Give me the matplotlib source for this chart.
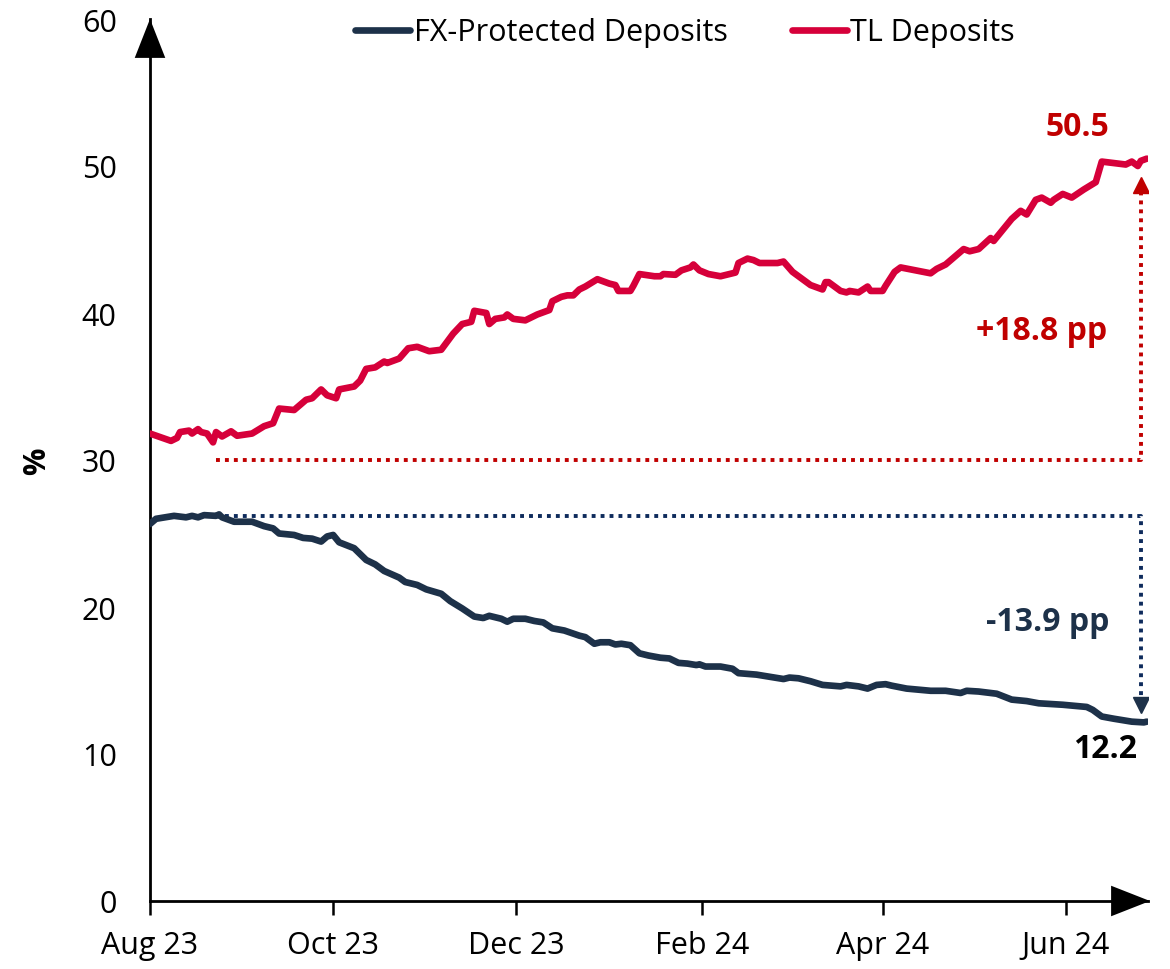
import numpy as np
import pandas as pd
import matplotlib
matplotlib.use('Agg')
import matplotlib.pyplot as plt
import matplotlib.dates as mdates

plt.rcParams['font.family'] = ['Open Sans', 'DejaVu Sans']

start = pd.Timestamp('2023-08-01')

# TL deposits share (%), day offsets counted from 1 Aug 2023
tl_day = [0, 7, 9, 10, 13, 14, 16, 17, 19, 21, 22, 24, 27, 29, 34, 38, 41, 43, 48, 52,
          54, 57, 59, 62, 63, 68, 70, 72, 75, 78, 79, 83, 86, 89, 93, 97, 101, 104, 107, 108,
          112, 113, 115, 118, 119, 121, 125, 129, 133, 134, 137, 139, 141, 143, 145, 149, 153,
          155, 156, 160, 161, 163, 168, 170, 171, 175, 177, 180, 181, 183, 186, 190, 194, 195,
          196, 199, 201, 203, 209, 211, 214, 218, 220, 224, 225, 226, 230, 232, 233, 236, 239,
          240, 244, 245, 248, 250, 260, 262, 265, 269, 271, 273, 276, 280, 281, 287, 290, 292,
          295, 297, 300, 301, 304, 307, 311, 315, 317, 325, 327, 329, 330, 332]
tl_val = [31.8, 31.3, 31.5, 31.9, 32.0, 31.8, 32.1, 31.9, 31.8, 31.2, 31.9, 31.6, 31.95, 31.65,
          31.8, 32.3, 32.5, 33.5, 33.4, 34.1, 34.2, 34.8, 34.4, 34.2, 34.8, 35.0, 35.4, 36.2,
          36.3, 36.7, 36.6, 36.9, 37.6, 37.7, 37.4, 37.5, 38.6, 39.25, 39.4, 40.15, 40.0, 39.25,
          39.6, 39.7, 39.9, 39.6, 39.5, 39.9, 40.2, 40.8, 41.1, 41.2, 41.2, 41.6, 41.8, 42.3,
          42.0, 41.9, 41.5, 41.5, 41.85, 42.65, 42.5, 42.5, 42.65, 42.6, 42.9, 43.1, 43.3, 42.9,
          42.65, 42.5, 42.7, 42.75, 43.4, 43.7, 43.6, 43.4, 43.4, 43.5, 42.8, 42.2, 41.9, 41.6,
          42.1, 42.1, 41.5, 41.4, 41.5, 41.4, 41.8, 41.5, 41.5, 41.85, 42.8, 43.1, 42.7, 43.0,
          43.3, 44.0, 44.35, 44.2, 44.35, 45.1, 44.9, 46.4, 46.95, 46.7, 47.7, 47.85, 47.5,
          47.7, 48.1, 47.85, 48.4, 48.9, 50.3, 50.1, 50.3, 50.0, 50.35, 50.5]

# FX-protected deposits share (%)
fx_day = [0, 2, 8, 12, 14, 16, 18, 22, 23, 24, 28, 34, 38, 41, 43, 48, 51, 54, 57, 59, 61, 63,
          68, 72, 75, 78, 83, 85, 89, 92, 97, 100, 104, 108, 111, 113, 117, 119, 121, 125, 128,
          131, 134, 138, 143, 145, 148, 150, 153, 155, 157, 160, 163, 166, 170, 173, 176, 179,
          182, 183, 185, 190, 194, 196, 202, 205, 211, 213, 216, 220, 224, 230, 232, 236, 239,
          242, 245, 247, 252, 260, 265, 270, 272, 276, 282, 287, 292, 296, 304, 312, 314, 317,
          321, 327, 331, 332]
fx_val = [25.65, 26.0, 26.2, 26.1, 26.2, 26.1, 26.25, 26.2, 26.3, 26.1, 25.8, 25.8, 25.5, 25.35,
          25.0, 24.9, 24.7, 24.65, 24.45, 24.8, 24.9, 24.4, 24.0, 23.2, 22.9, 22.45, 22.0, 21.7,
          21.5, 21.2, 20.9, 20.4, 19.9, 19.35, 19.25, 19.4, 19.2, 19.0, 19.2, 19.2, 19.05,
          18.95, 18.55, 18.4, 18.05, 17.95, 17.5, 17.6, 17.6, 17.45, 17.5, 17.4, 16.85, 16.7,
          16.55, 16.5, 16.2, 16.15, 16.05, 16.1, 15.95, 15.95, 15.8, 15.5, 15.4, 15.3, 15.1,
          15.2, 15.15, 14.95, 14.7, 14.6, 14.7, 14.6, 14.45, 14.7, 14.75, 14.65, 14.45, 14.3,
          14.3, 14.15, 14.3, 14.25, 14.1, 13.7, 13.6, 13.45, 13.35, 13.2, 13.0, 12.55, 12.4,
          12.2, 12.15, 12.2]

tl_dates = start + pd.to_timedelta(tl_day, unit='D')
fx_dates = start + pd.to_timedelta(fx_day, unit='D')

RED = '#D6003A'
NAVY = '#1D3149'
DRED = '#C00000'
DNAVY = '#0E2B5C'

fig = plt.figure(figsize=(11.7, 9.7), dpi=100)
ax = fig.add_axes([150 / 1170, 68 / 970, 998 / 1170, 882 / 970])

ax.plot(fx_dates, fx_val, color=NAVY, lw=4.8, solid_capstyle='round',
        solid_joinstyle='round', label='FX-Protected Deposits', zorder=3)
ax.plot(tl_dates, tl_val, color=RED, lw=4.8, solid_capstyle='round',
        solid_joinstyle='round', label='TL Deposits', zorder=3)

# change markers: dotted guides and arrows
d0 = start + pd.Timedelta(days=22)
d1 = start + pd.Timedelta(days=330)
dot = (0, (1, 1.3))
ax.plot([d0, d1, d1], [30, 30, 48.6], color=DRED, lw=2.8, ls=dot, dash_capstyle='butt')
ax.plot([d1], [48.7], marker='^', ms=11, color=DRED, mec=DRED)
ax.plot([d0, d1, d1], [26.2, 26.2, 13.6], color=DNAVY, lw=2.8, ls=dot, dash_capstyle='butt')
ax.plot([d1], [13.35], marker='v', ms=11, color=NAVY, mec=NAVY)

ax.text(start + pd.Timedelta(days=297), 38.8, '+18.8 pp', color=DRED, fontsize=23,
        fontweight='bold', ha='center', va='center')
ax.text(start + pd.Timedelta(days=299), 19.0, '-13.9 pp', color=NAVY, fontsize=23,
        fontweight='bold', ha='center', va='center')
ax.text(start + pd.Timedelta(days=309), 52.7, '50.5', color=DRED, fontsize=23,
        fontweight='bold', ha='center', va='center')
ax.text(start + pd.Timedelta(days=318), 10.4, '12.2', color='black', fontsize=23,
        fontweight='bold', ha='center', va='center')

ax.set_xlim(start, start + pd.Timedelta(days=332.4))
ax.set_ylim(0, 60)
ax.set_yticks(range(0, 61, 10))
ax.xaxis.set_major_locator(mdates.MonthLocator(bymonth=[2, 4, 6, 8, 10, 12]))
ax.xaxis.set_major_formatter(mdates.DateFormatter('%b %y'))
ax.tick_params(axis='x', length=10, width=1.8, direction='out', pad=11, labelsize=22)
ax.tick_params(axis='y', length=0, pad=24, labelsize=22)

for s in ['top', 'right']:
    ax.spines[s].set_visible(False)
for s in ['left', 'bottom']:
    ax.spines[s].set_linewidth(2)
    ax.spines[s].set_color('black')

# arrow heads on the axes
arrow = dict(arrowstyle='-|>,head_length=1.4,head_width=0.55', color='black', lw=0,
             mutation_scale=20, shrinkA=0, shrinkB=0)
ax.annotate('', xy=(0, 1), xytext=(0, 0.95), xycoords='axes fraction', arrowprops=arrow,
            annotation_clip=False)
ax.annotate('', xy=(1.002, 0), xytext=(0.95, 0), xycoords='axes fraction', arrowprops=arrow,
            annotation_clip=False)

ax.set_ylabel('%', fontsize=22, fontweight='bold')
ax.yaxis.set_label_coords(-0.098, 0.5)

leg = ax.legend(loc='center', bbox_to_anchor=(0.536, 0.985), ncol=2, frameon=False,
                fontsize=22, handlelength=1.8, handletextpad=0.12, columnspacing=2.1)
for h in leg.get_lines():
    h.set_linewidth(4.8)
    h.set_solid_capstyle('round')

fig.savefig('out.png', dpi=100)
